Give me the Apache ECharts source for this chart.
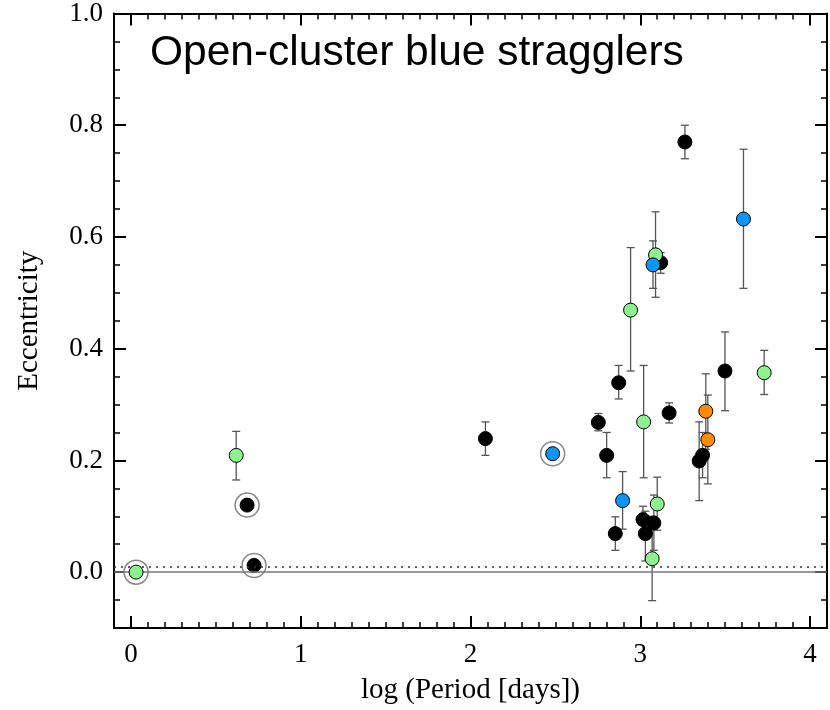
<!DOCTYPE html>
<html>
<head>
<meta charset="utf-8">
<script src="https://cdn.jsdelivr.net/npm/echarts@6/dist/echarts.min.js"></script>
<style>
html, body { margin: 0; padding: 0; background: #fff; }
#chart { width: 830px; height: 710px; }
</style>
</head>
<body>
<div id="chart"></div>
<script>
// [log P, e, e low, e high, ringed]
var greenPts = [
	[0.03, 0.000, null, null, 1],
	[0.62, 0.209, 0.165, 0.252, 0],
	[2.943, 0.469, 0.360, 0.581, 0],
	[3.02, 0.269, 0.169, 0.370, 0],
	[3.09, 0.568, 0.492, 0.645, 0],
	[3.10, 0.122, 0.075, 0.170, 0],
	[3.07, 0.024, -0.051, 0.100, 0],
	[3.73, 0.357, 0.318, 0.397, 0]
];
var bluePts = [
	[2.484, 0.212, 0.195, 0.229, 1],
	[2.896, 0.128, 0.077, 0.180, 0],
	[3.075, 0.550, 0.508, 0.593, 0],
	[3.608, 0.632, 0.508, 0.757, 0]
];
var orangePts = [
	[3.386, 0.288, 0.220, 0.355, 0],
	[3.398, 0.237, 0.158, 0.317, 0]
];
var blackPts = [
	[0.684, 0.120, null, null, 1],
	[0.725, 0.012, null, null, 1],
	[2.088, 0.239, 0.209, 0.269, 0],
	[2.753, 0.268, 0.253, 0.284, 0],
	[2.802, 0.209, 0.169, 0.250, 0],
	[2.853, 0.069, 0.039, 0.099, 0],
	[2.873, 0.339, 0.310, 0.370, 0],
	[3.016, 0.094, 0.070, 0.118, 0],
	[3.03, 0.069, 0.020, 0.109, 0],
	[3.08, 0.088, 0.039, 0.138, 0],
	[3.12, 0.554, 0.535, 0.572, 0],
	[3.17, 0.285, 0.267, 0.303, 0],
	[3.263, 0.770, 0.740, 0.800, 0],
	[3.347, 0.199, 0.128, 0.269, 0],
	[3.367, 0.209, 0.169, 0.250, 0],
	[3.499, 0.360, 0.289, 0.430, 0]
];
var refLines = [0, 0.01];   // e = 0 and circular limit
var xRange = [-0.1, 4.1];
var yRange = [-0.1, 1.0];

var serif = '"Liberation Serif", "Times New Roman", serif';
var allPts = blackPts.concat(greenPts, bluePts, orangePts);

function xAxisConf(pos, showLabel) {
	return {
		type: 'value', position: pos, min: xRange[0], max: xRange[1],
		minInterval: 1, maxInterval: 1, splitNumber: 5,
		name: showLabel ? 'log (Period [days])' : '',
		nameLocation: 'middle', nameGap: 48,
		nameTextStyle: { fontFamily: serif, fontSize: 29, color: '#000' },
		axisLine: { show: true, onZero: false, lineStyle: { color: '#000', width: 2 } },
		axisTick: { show: true, inside: true, length: 12, lineStyle: { color: '#000', width: 2 } },
		minorTick: { show: true, splitNumber: 10, length: 6, lineStyle: { color: '#000', width: 1.5 } },
		axisLabel: {
			show: showLabel, margin: 13, fontFamily: serif, fontSize: 27, color: '#000',
			formatter: function (v) { return Math.abs(v - Math.round(v)) < 1e-6 ? String(Math.round(v)) : ''; }
		},
		splitLine: { show: false }
	};
}
function yAxisConf(pos, showLabel) {
	return {
		type: 'value', position: pos, min: yRange[0], max: yRange[1],
		minInterval: 0.2, maxInterval: 0.2, splitNumber: 5,
		name: showLabel ? 'Eccentricity' : '',
		nameLocation: 'middle', nameGap: 70, nameRotate: 90,
		nameTextStyle: { fontFamily: serif, fontSize: 29, color: '#000' },
		axisLine: { show: true, onZero: false, lineStyle: { color: '#000', width: 2 } },
		axisTick: { show: true, inside: true, length: 12, lineStyle: { color: '#000', width: 2 } },
		minorTick: { show: true, splitNumber: 4, length: 6, lineStyle: { color: '#000', width: 1.5 } },
		axisLabel: {
			show: showLabel, margin: 11, fontFamily: serif, fontSize: 27, color: '#000',
			formatter: function (v) { return v >= -1e-6 ? v.toFixed(1) : ''; }
		},
		splitLine: { show: false }
	};
}

function renderErr(params, api) {
	var x = api.value(0), lo = api.value(2), hi = api.value(3);
	var p1 = api.coord([x, lo]), p2 = api.coord([x, hi]);
	var w = 4;
	var st = { stroke: '#555', lineWidth: 1.3 };
	return {
		type: 'group',
		children: [
			{ type: 'line', shape: { x1: p1[0], y1: p1[1], x2: p2[0], y2: p2[1] }, style: st },
			{ type: 'line', shape: { x1: p1[0] - w, y1: p1[1], x2: p1[0] + w, y2: p1[1] }, style: st },
			{ type: 'line', shape: { x1: p2[0] - w, y1: p2[1], x2: p2[0] + w, y2: p2[1] }, style: st }
		]
	};
}

function pointSeries(name, pts, color, z) {
	return {
		name: name, type: 'scatter', data: pts, symbol: 'circle', symbolSize: 14, z: z,
		encode: { x: 0, y: 1 },
		itemStyle: { color: color, borderColor: '#000', borderWidth: 1, opacity: 1 },
		emphasis: { disabled: true }
	};
}

var myChart = echarts.init(document.getElementById('chart'), null, { renderer: 'canvas' });
var options = {
	backgroundColor: '#fff',
	animation: false,
	title: {
		text: 'Open-cluster blue stragglers',
		left: 145, top: 27,
		textStyle: { fontFamily: '"Liberation Sans", Arial, sans-serif', fontSize: 42.5, fontWeight: 'normal', color: '#000' }
	},
	grid: { left: 114, right: 2, top: 11, bottom: 80 },
	xAxis: [xAxisConf('bottom', true), xAxisConf('top', false)],
	yAxis: [yAxisConf('left', true), yAxisConf('right', false)],
	series: [
		{
			type: 'line', data: [], z: 1,
			markLine: {
				silent: true, symbol: 'none', label: { show: false },
				data: [
					{ yAxis: refLines[0], lineStyle: { color: '#777', width: 1.5, type: 'solid' } },
					{ yAxis: refLines[1], lineStyle: { color: '#333', width: 1.5, type: [2, 5] } }
				]
			}
		},
		{
			type: 'custom', renderItem: renderErr, z: 2,
			data: allPts.filter(function (p) { return p[2] != null; }),
			encode: { x: 0, y: 1 }
		},
		{
			type: 'scatter', z: 3, symbolSize: 24,
			data: allPts.filter(function (p) { return p[4] === 1; }).map(function (p) { return [p[0], p[1]]; }),
			itemStyle: { color: '#fff', borderColor: '#888', borderWidth: 1.5, opacity: 1 },
			emphasis: { disabled: true }
		},
		pointSeries('black', blackPts, '#000000', 4),
		pointSeries('green', greenPts, '#8ff08f', 5),
		pointSeries('blue', bluePts, '#0a96f5', 6),
		pointSeries('orange', orangePts, '#ff8c00', 7)
	]
};
myChart.setOption(options);
</script>
</body>
</html>
